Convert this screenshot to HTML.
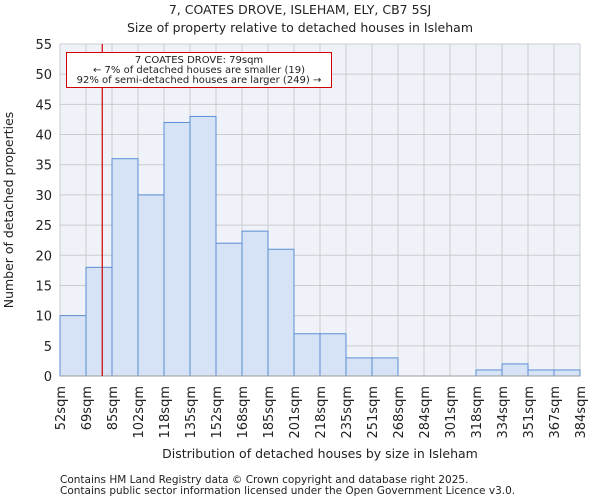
<!DOCTYPE html>
<html><head><meta charset="utf-8"><style>
body{margin:0;background:#fff;font-family:"DejaVu Sans","Liberation Sans",sans-serif;}
svg text{font-family:"DejaVu Sans","Liberation Sans",sans-serif;fill:#222}
</style></head><body>
<svg id="chart" width="600" height="500" xmlns="http://www.w3.org/2000/svg">
<text x="300" y="14" font-size="12.5" text-anchor="middle">7, COATES DROVE, ISLEHAM, ELY, CB7 5SJ</text>
<text x="300" y="32" font-size="12.5" text-anchor="middle">Size of property relative to detached houses in Isleham</text>
<rect x="60" y="44" width="520" height="332" fill="#f0f2fa"/>
<g id="grid"></g><g id="bars"></g><g id="axes"></g>
<text x="320" y="458" font-size="12.5" text-anchor="middle">Distribution of detached houses by size in Isleham</text>
<text transform="translate(13,210) rotate(-90)" font-size="12.5" text-anchor="middle">Number of detached properties</text>
<text x="60" y="483" font-size="10.5" fill="#444">Contains HM Land Registry data © Crown copyright and database right 2025.</text>
<text x="60" y="494" font-size="10.5" fill="#444">Contains public sector information licensed under the Open Government Licence v3.0.</text>
</svg>
<script>
const xLabels=["52sqm","69sqm","85sqm","102sqm","118sqm","135sqm","152sqm","168sqm","185sqm","201sqm","218sqm","235sqm","251sqm","268sqm","284sqm","301sqm","318sqm","334sqm","351sqm","367sqm","384sqm"];
const binEdges=[52,69,85,102,118,135,152,168,185,201,218,235,251,268,284,301,318,334,351,367,384];
const counts=[10,18,36,30,42,43,22,24,21,7,7,3,3,0,0,0,1,2,1,1];
const yTicks=[0,5,10,15,20,25,30,35,40,45,50,55];
const propertySize=79;
const NS="http://www.w3.org/2000/svg";
const X0=60,X1=580,Y0=376,Y1=44,YMAX=55;
const n=counts.length,bw=(X1-X0)/n;
const xi=i=>X0+i*bw;
const xv=v=>{for(let i=0;i<binEdges.length-1;i++){if(v<=binEdges[i+1])return xi(i)+(v-binEdges[i])/(binEdges[i+1]-binEdges[i])*bw;}return X1;};
const y=v=>Y0-(v/YMAX)*(Y0-Y1);
function mk(t,a,p){const e=document.createElementNS(NS,t);for(const k in a)e.setAttribute(k,a[k]);p.appendChild(e);return e;}
const g=document.getElementById('grid'),b=document.getElementById('bars'),ax=document.getElementById('axes');
yTicks.forEach(t=>{const l=mk('line',{x1:X0,x2:X1,y1:y(t),y2:y(t),stroke:'#cccccc','stroke-width':1},g);

const tx=mk('text',{x:X0-8,y:y(t)+5,'font-size':13,'text-anchor':'end'},ax);tx.textContent=t;
});
xLabels.forEach((lab,i)=>{const l=mk('line',{x1:xi(i),x2:xi(i),y1:Y1,y2:Y0,stroke:'#cccccc','stroke-width':1},g);

const tx=mk('text',{transform:`translate(${xi(i)+5},${Y0+10}) rotate(-90)`,'font-size':13,'text-anchor':'end'},ax);tx.textContent=lab;
});
counts.forEach((c,i)=>{if(c<=0)return;const r=mk('rect',{x:xi(i),y:y(c),width:bw,height:Y0-y(c),fill:'#d6e2f5',stroke:'#5b8fd4','stroke-width':1},b);
});
const al=mk('line',{x1:X0,x2:X1,y1:Y0,y2:Y0,stroke:'#999','stroke-width':1},ax);

const px=xv(propertySize);
const ml=mk('line',{x1:px,x2:px,y1:Y1,y2:Y0,stroke:'#d00000','stroke-width':1.2},ax);

const ann=mk('g',{},ax);
mk('rect',{x:66.5,y:52.5,width:265,height:35,fill:'#fff',stroke:'#d00000','stroke-width':1},ann);
["7 COATES DROVE: 79sqm","← 7% of detached houses are smaller (19)","92% of semi-detached houses are larger (249) →"].forEach((s,i)=>{const t=mk('text',{x:199,y:63+i*10,'font-size':10,'text-anchor':'middle'},ann);t.textContent=s;
});
</script>
</body></html>
